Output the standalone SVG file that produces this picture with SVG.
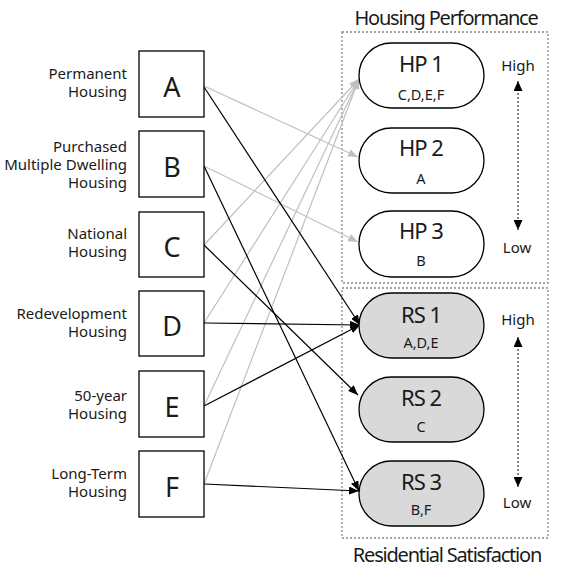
<svg xmlns="http://www.w3.org/2000/svg" width="566" height="578" viewBox="0 0 566 578">
<style>
text{font-family:"Noto Sans","Open Sans","DejaVu Sans",sans-serif;fill:#1a1a1a}
.lbl{font-size:15px;text-anchor:end}
.box{fill:#fff;stroke:#000;stroke-width:1.3}
.let{font-size:27px;text-anchor:middle}
.pill{stroke:#000;stroke-width:1.3}
.hp{fill:#fff}
.rs{fill:#d9d9d9}
.big{font-size:22px;text-anchor:middle;letter-spacing:-1px}
.sub{font-size:14.5px;text-anchor:middle}
.grp{fill:none;stroke:#888;stroke-width:1.3;stroke-dasharray:2 2}
.title{font-size:20px;text-anchor:middle;letter-spacing:-1.2px}
.hl{font-size:15px;text-anchor:middle}
.g{stroke:#c0c0c0;stroke-width:1.2;fill:none;marker-end:url(#ag)}
.k{stroke:#000;stroke-width:1.2;fill:none;marker-end:url(#ak)}
.scale{stroke:#444;stroke-width:1.3;stroke-dasharray:2 2;marker-start:url(#as);marker-end:url(#as)}
</style>
<defs>
<marker id="ag" markerUnits="userSpaceOnUse" markerWidth="11" markerHeight="8" refX="10" refY="4" orient="auto"><path d="M0,0 L10,4 L0,8 z" fill="#c0c0c0"/></marker>
<marker id="ak" markerUnits="userSpaceOnUse" markerWidth="11" markerHeight="8" refX="10" refY="4" orient="auto"><path d="M0,0 L10,4 L0,8 z" fill="#000"/></marker>
<marker id="as" markerUnits="userSpaceOnUse" markerWidth="11" markerHeight="9" refX="10" refY="4.5" orient="auto-start-reverse"><path d="M0,0 L10,4.5 L0,9 z" fill="#000"/></marker>
</defs>
<rect width="566" height="578" fill="#fff"/>

<g id="group-hp">
<rect class="grp" x="342" y="32" width="206" height="251"/>
<text class="title" x="446" y="25">Housing Performance</text>
<text class="hl" x="518" y="71">High</text>
<text class="hl" x="517" y="253">Low</text>
<line class="scale" x1="518" y1="81" x2="518" y2="230"/>
</g>
<g id="group-rs">
<rect class="grp" x="342" y="288" width="206" height="250"/>
<text class="title" x="447" y="562">Residential Satisfaction</text>
<text class="hl" x="518" y="325">High</text>
<text class="hl" x="517" y="508">Low</text>
<line class="scale" x1="518" y1="337" x2="518" y2="487"/>
</g>

<g id="connectors">
<line class="g" x1="204" y1="86" x2="358" y2="157"/>
<line class="g" x1="204" y1="166" x2="358" y2="242"/>
<line class="g" x1="204" y1="245" x2="359" y2="79"/>
<line class="g" x1="204" y1="323" x2="359" y2="79"/>
<line class="g" x1="204" y1="406" x2="359" y2="79"/>
<line class="g" x1="204" y1="484" x2="359" y2="79"/>
<line class="k" x1="204" y1="87" x2="360" y2="325"/>
<line class="k" x1="204" y1="323" x2="360" y2="325"/>
<line class="k" x1="204" y1="406" x2="360" y2="325"/>
<line class="k" x1="204" y1="245" x2="358" y2="395"/>
<line class="k" x1="204" y1="166" x2="359" y2="491"/>
<line class="k" x1="204" y1="484" x2="359" y2="491"/>
</g>

<g id="node-A"><text class="lbl" x="127" y="79">Permanent</text><text class="lbl" x="127" y="97">Housing</text><rect class="box" x="139" y="51" width="65" height="66"/><text class="let" x="172" y="97">A</text></g>
<g id="node-B"><text class="lbl" x="127" y="152">Purchased</text><text class="lbl" x="127" y="170">Multiple Dwelling</text><text class="lbl" x="127" y="188">Housing</text><rect class="box" x="139" y="131" width="65" height="66"/><text class="let" x="172" y="177">B</text></g>
<g id="node-C"><text class="lbl" x="127" y="239">National</text><text class="lbl" x="127" y="257">Housing</text><rect class="box" x="139" y="212" width="65" height="65"/><text class="let" x="172" y="257">C</text></g>
<g id="node-D"><text class="lbl" x="127" y="319">Redevelopment</text><text class="lbl" x="127" y="337">Housing</text><rect class="box" x="139" y="291" width="65" height="65"/><text class="let" x="172" y="336">D</text></g>
<g id="node-E"><text class="lbl" x="127" y="401">50-year</text><text class="lbl" x="127" y="419">Housing</text><rect class="box" x="139" y="371" width="65" height="66"/><text class="let" x="172" y="417">E</text></g>
<g id="node-F"><text class="lbl" x="127" y="479">Long-Term</text><text class="lbl" x="127" y="497">Housing</text><rect class="box" x="139" y="451" width="65" height="66"/><text class="let" x="172" y="497">F</text></g>

<g id="node-HP1"><rect class="pill hp" x="359" y="43" width="125" height="65" rx="32.5"/><text class="big" x="421" y="72">HP 1</text><text class="sub" x="421" y="100">C,D,E,F</text></g>
<g id="node-HP2"><rect class="pill hp" x="359" y="128" width="125" height="65" rx="32.5"/><text class="big" x="421" y="156">HP 2</text><text class="sub" x="421" y="184">A</text></g>
<g id="node-HP3"><rect class="pill hp" x="359" y="211" width="125" height="66" rx="32.5"/><text class="big" x="421" y="239">HP 3</text><text class="sub" x="421" y="266">B</text></g>
<g id="node-RS1"><rect class="pill rs" x="359" y="293" width="125" height="65" rx="32.5"/><text class="big" x="421" y="323">RS 1</text><text class="sub" x="421" y="348">A,D,E</text></g>
<g id="node-RS2"><rect class="pill rs" x="359" y="377" width="125" height="65" rx="32.5"/><text class="big" x="421" y="406">RS 2</text><text class="sub" x="421" y="432">C</text></g>
<g id="node-RS3"><rect class="pill rs" x="359" y="461" width="125" height="65" rx="32.5"/><text class="big" x="421" y="490">RS 3</text><text class="sub" x="421" y="515">B,F</text></g>
</svg>
